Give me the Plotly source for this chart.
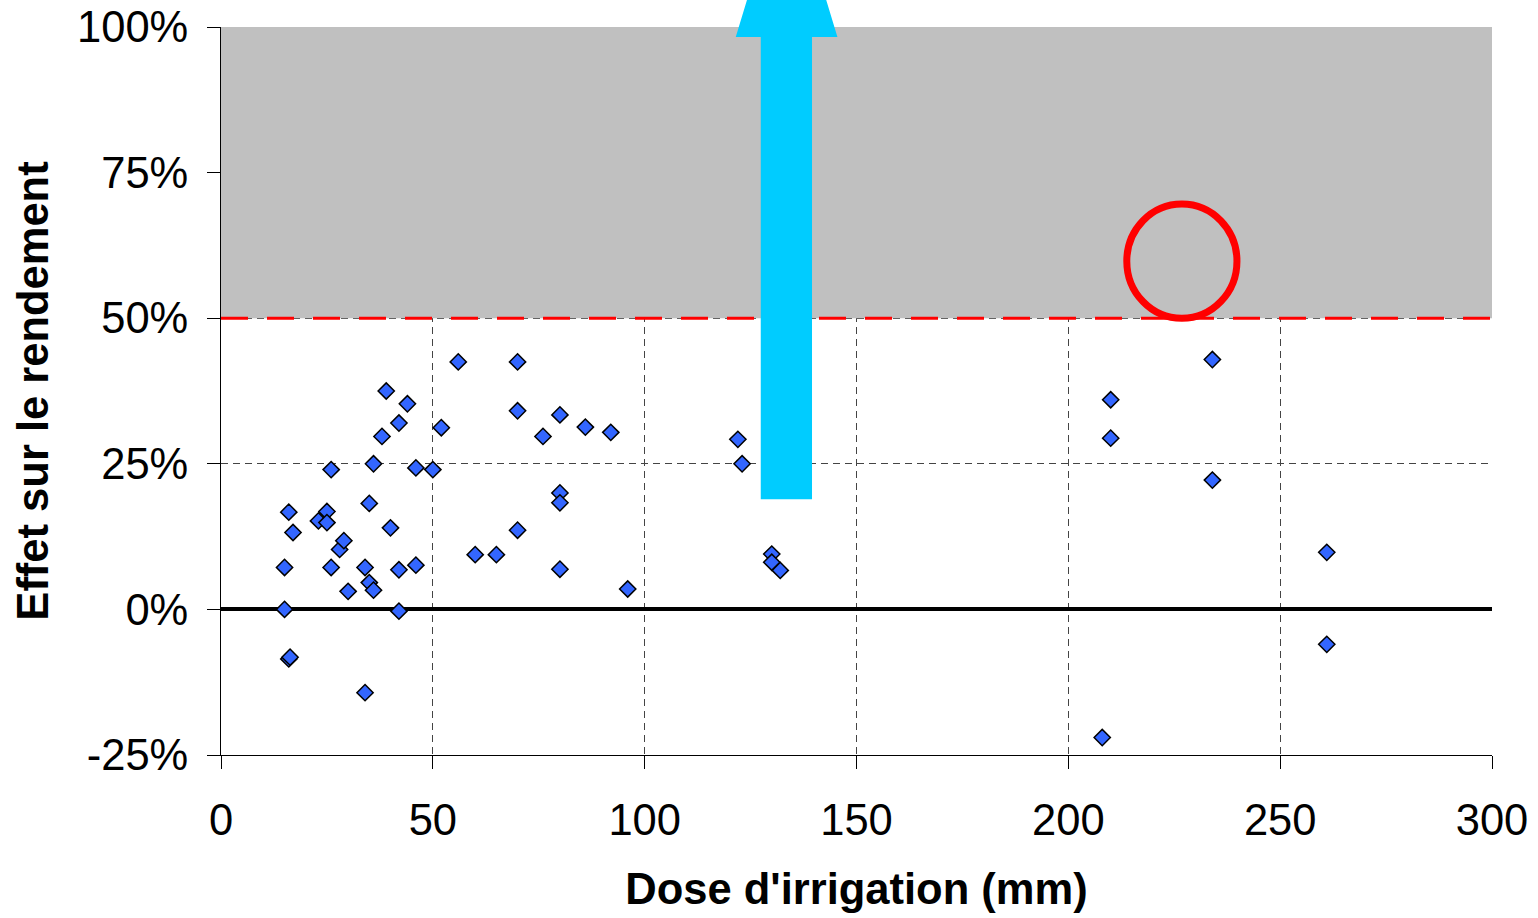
import plotly.graph_objects as go

# data
dose = [15, 15, 16, 16, 16.3, 17, 23, 25, 25, 26, 26, 28, 29, 30, 34, 34, 35, 35,
        36, 36, 38, 39, 40, 42, 42, 42, 44, 46, 46, 50, 52, 56, 60, 65, 70, 70, 70,
        76, 80, 80, 80, 80, 86, 92, 96, 122, 123, 130, 130, 132, 208, 210, 210,
        234, 234, 261, 261]
effet = [7.2, 0, 16.7, -8.5, -8.2, 13.2, 15.2, 16.8, 14.9, 24.0, 7.2, 10.3, 11.8, 3.1,
         7.2, -14.3, 18.2, 4.6, 25.0, 3.3, 29.7, 37.5, 14.0, 32.0, 6.8, -0.3, 35.3,
         24.3, 7.6, 24.0, 31.2, 42.5, 9.4, 9.4, 42.5, 34.1, 13.6, 29.7, 33.4, 20.0,
         18.3, 6.9, 31.3, 30.4, 3.5, 29.2, 25.0, 9.5, 8.1, 6.7, -22.0, 36.0, 29.4,
         42.9, 22.2, 9.8, -6.0]

x_ticks = [0, 50, 100, 150, 200, 250, 300]
y_ticks = [-25, 0, 25, 50, 75, 100]
y_labels = ["-25%", "0%", "25%", "50%", "75%", "100%"]

seuil = 50          # limit of the grey zone
cercle = (213.8, 239.8, 50, 69.6)
fleche_x = (121.5, 127.4, 133.5, 139.5, 145.5)
fleche_y = (18.9, 98.3, 127)

X_RANGE = [0, 300]
Y_RANGE = [-25, 100]


def px(v):
    return (v - X_RANGE[0]) / (X_RANGE[1] - X_RANGE[0])


def py(v):
    return (v - Y_RANGE[0]) / (Y_RANGE[1] - Y_RANGE[0])


fig = go.Figure()
fig.add_trace(go.Scatter(
    x=dose, y=effet, mode="markers",
    marker=dict(symbol="diamond", size=12.5, color="#3366FF",
                line=dict(color="black", width=1.5)),
    cliponaxis=False, showlegend=False))

# grey zone + red dashed threshold
fig.add_shape(type="rect", xref="x", yref="y", x0=0, x1=300, y0=seuil, y1=100,
              fillcolor="#C0C0C0", line_width=0, layer="between")
fig.add_shape(type="line", xref="x", yref="y", x0=0, x1=300, y0=seuil, y1=seuil,
              line=dict(color="#FF0000", width=3, dash="27px,19px"), layer="between")
fig.add_shape(type="circle", xref="x", yref="y",
              x0=cercle[0], x1=cercle[1], y0=cercle[2], y1=cercle[3],
              line=dict(color="#FF0000", width=7))

# big cyan arrow
a, b, c, d, e = fleche_x
y0, y1, y2 = fleche_y
path = (f"M {px(b)} {py(y0)} L {px(d)} {py(y0)} L {px(d)} {py(y1)} "
        f"L {px(e)} {py(y1)} L {px(c)} {py(y2)} L {px(a)} {py(y1)} "
        f"L {px(b)} {py(y1)} Z")
fig.add_shape(type="path", xref="paper", yref="paper", path=path,
              fillcolor="#00CCFF", line_width=0, layer="above")

fig.update_xaxes(
    range=X_RANGE, tickvals=x_ticks, ticks="outside", ticklen=13, tickcolor="black",
    showline=True, linecolor="black", linewidth=1,
    showgrid=True, gridcolor="#444444", gridwidth=1, griddash="7px,5px",
    zeroline=False, automargin=False, ticklabelstandoff=14,
    ticklabeloverflow="allow",
    tickfont=dict(size=43.5, color="black"),
    title=dict(text="<b>Dose d'irrigation (mm)</b>", font=dict(size=43.5, color="black"),
               standoff=30))
fig.update_yaxes(
    range=Y_RANGE, tickvals=y_ticks, ticktext=y_labels, ticks="outside", ticklen=13,
    tickcolor="black", showline=True, linecolor="black", linewidth=1,
    showgrid=True, gridcolor="#444444", gridwidth=1, griddash="7px,5px",
    zeroline=True, zerolinecolor="black", zerolinewidth=4,
    automargin=False, ticklabelstandoff=10, ticklabeloverflow="allow",
    tickfont=dict(size=43.5, color="black"),
    title=dict(text="<b>Effet sur le rendement</b>", font=dict(size=43.5, color="black"),
               standoff=14))

fig.update_layout(
    width=1538, height=918,
    margin=dict(l=221, r=46, t=27, b=163),
    plot_bgcolor="white", paper_bgcolor="white",
    font=dict(family="Liberation Sans, Arial, sans-serif", color="black"))

# drop the default 8px body margin so the figure fills the window exactly
fig.write_html("out.html",
               config={"displayModeBar": False},
               post_script="document.body.style.margin='0px';"
                           "document.body.style.overflow='hidden';")
